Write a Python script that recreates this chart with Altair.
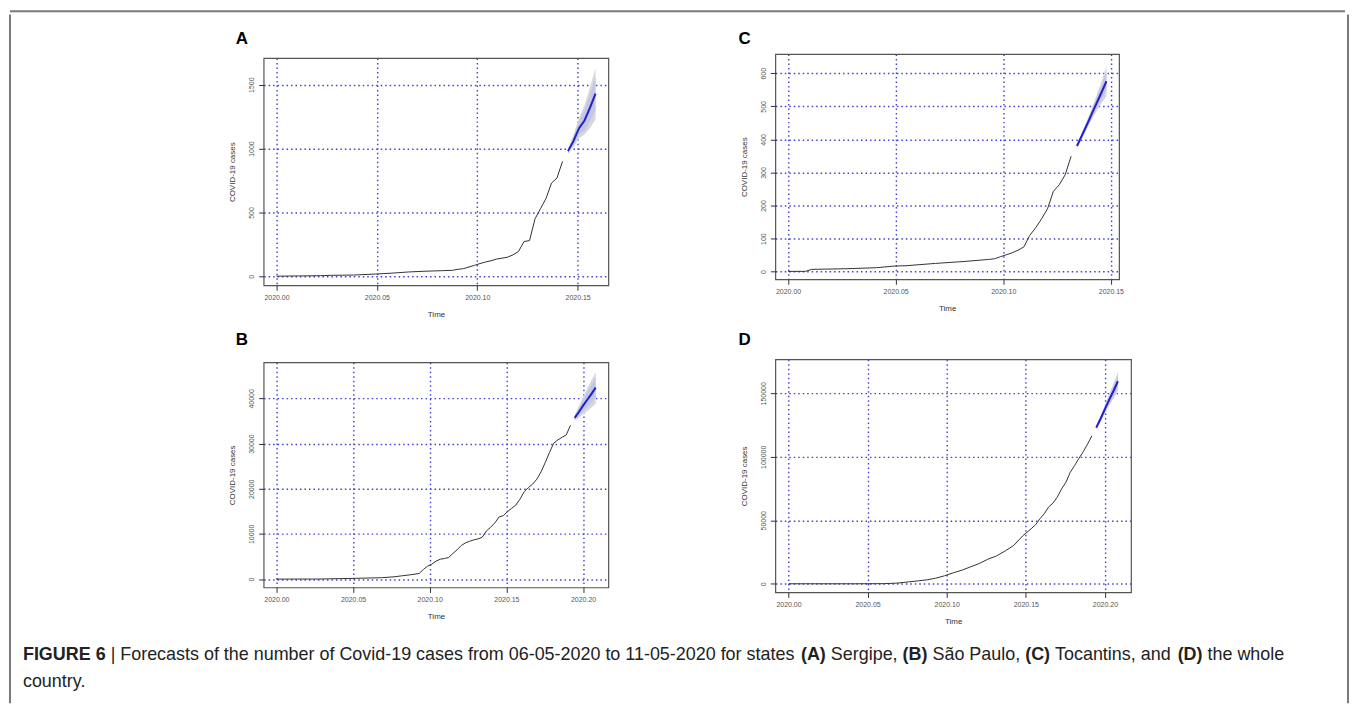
import altair as alt
import pandas as pd

# ---------------- data ----------------
# Panel A - Sergipe (day index since series start, cases)
A_obs_day = [0, 4, 8, 10, 14, 18, 21, 24, 27, 30, 32, 33, 34, 35, 36, 37, 38, 39, 40, 41, 42, 43, 44, 45, 46, 47, 48, 49, 50, 51, 52]
A_obs_val = [1, 3, 5, 8, 10, 18, 25, 34, 40, 44, 47, 55, 60, 73, 86, 100, 112, 122, 135, 142, 150, 168, 195, 272, 280, 450, 530, 610, 730, 770, 900]
A_fc_day = [53, 54, 55, 56, 57, 58]
A_fc_mean = [980, 1060, 1160, 1220, 1320, 1430]
A_lo80 = [967, 1028, 1108, 1140, 1220, 1300]
A_hi80 = [993, 1092, 1212, 1300, 1420, 1560]
A_lo95 = [960, 1010, 1080, 1110, 1160, 1230]
A_hi95 = [1000, 1110, 1240, 1340, 1480, 1630]

# Panel B - Sao Paulo
B_obs_day = [0, 10, 18, 25, 28, 30, 32, 33, 34, 35, 36, 37, 38, 39, 40, 41, 42, 43, 44, 45, 46, 47, 48, 49, 50,
             51, 52, 53, 54, 55, 56, 57, 58, 59, 60, 61, 62, 63, 64, 65, 66, 67, 68, 69, 70]
B_obs_val = [0, 10, 150, 300, 500, 740, 960, 1100, 1250, 2130, 2870, 3300, 3970, 4400, 4560, 4780, 5660, 6470, 7430, 8010, 8380, 8680, 8900, 9260, 10660,
             11470, 12430, 13750, 14040, 14930, 15660, 16400, 17720, 19340, 20290, 21030, 22130, 23750, 25810, 28010, 30070, 30810, 31400, 31910, 34040]
B_fc_day = [71, 72, 73, 74, 75, 76]
B_fc_mean = [35700, 37000, 38400, 39700, 41000, 42400]
B_lo80 = [35300, 36200, 37200, 38100, 39100, 40200]
B_hi80 = [36100, 37800, 39600, 41300, 42900, 44600]
B_lo95 = [35100, 35700, 36500, 37200, 38000, 38800]
B_hi95 = [36300, 38300, 40300, 42200, 44000, 45800]

# Panel C - Tocantins
C_obs_day = [0, 3, 4, 10, 15, 18, 20, 25, 30, 34, 35, 36, 37, 38, 39, 40, 41, 42, 43, 44, 45, 46, 47, 48]
C_obs_val = [1, 1, 7, 9, 12, 17, 18, 25, 31, 37, 39, 45, 51, 57, 65, 75, 110, 133, 160, 190, 243, 263, 293, 349]
C_fc_day = [49, 50, 51, 52, 53, 54]
C_fc_mean = [380, 418, 457, 497, 536, 576]
C_lo80 = [377, 412, 447, 483, 516, 547]
C_hi80 = [383, 424, 467, 511, 556, 605]
C_lo95 = [375, 408, 442, 476, 506, 530]
C_hi95 = [385, 428, 472, 518, 566, 622]

# Panel D - whole country
D_obs_day = [0, 15, 22, 25, 28, 30, 32, 34, 36, 38, 40, 42, 44, 46, 48, 50, 52, 54, 56, 57, 58, 59, 60,
             61, 62, 63, 64, 65, 66, 67, 68, 69, 70]
D_obs_val = [0, 0, 100, 520, 1570, 2350, 3140, 4440, 6270, 8620, 10710, 13330, 15940, 19340, 21950, 25870, 30310, 37630, 43380, 46510, 51210, 55130, 60360,
             63500, 68200, 74730, 79960, 87800, 93020, 98770, 104000, 110000, 116540]
D_fc_day = [71, 72, 73, 74, 75, 76]
D_fc_mean = [123000, 130000, 137500, 145000, 152000, 159500]
D_lo80 = [122000, 128400, 135200, 142000, 148000, 154700]
D_hi80 = [124000, 131600, 139800, 148000, 156000, 164300]
D_lo95 = [121500, 127500, 134000, 140500, 146000, 152000]
D_hi95 = [124500, 132500, 141000, 149500, 158000, 167000]

X_TICKS_AC = [2020.00, 2020.05, 2020.10, 2020.15]
X_TICKS_BD = [2020.00, 2020.05, 2020.10, 2020.15, 2020.20]
A_YTICKS = [0, 500, 1000, 1500]
B_YTICKS = [0, 10000, 20000, 30000, 40000]
C_YTICKS = [0, 100, 200, 300, 400, 500, 600]
D_YTICKS = [0, 50000, 100000, 150000]

CAPTION_LINE1 = [("FIGURE 6", True), (" | Forecasts of the number of Covid-19 cases from 06-05-2020 to 11-05-2020 for states ", False),
                 ("(A)", True), (" Sergipe, ", False), ("(B)", True), (" São Paulo, ", False), ("(C)", True),
                 (" Tocantins, and ", False), ("(D)", True), (" the whole", False)]
CAPTION_LINE2 = [("country.", False)]

FONT = "Liberation Sans"
GRID_COLOR = "#4040d4"
FRAME = "#7a7a7a"


def to_time(days):
    return [2020 + d / 365.0 for d in days]


def panel(letter, od, ov, fd, fm, l80, h80, l95, h95, xdom, ydom, xt, yt, w, h, toff, tdx):
    obs = pd.DataFrame({"t": to_time(od), "v": ov})
    fc = pd.DataFrame({"t": to_time(fd), "m": fm, "l80": l80, "h80": h80, "l95": l95, "h95": h95})
    xs = alt.Scale(domain=xdom, nice=False, zero=False)
    ys = alt.Scale(domain=ydom, nice=False, zero=False)
    xax = alt.Axis(values=xt, format=".2f", title="Time", grid=True, gridColor=GRID_COLOR,
                   gridDash=[1.5, 3], gridWidth=1.4, domain=False, tickSize=5, tickColor="#333",
                   tickWidth=1, labelFontSize=7, labelColor="#555", labelPadding=3, labelFont=FONT,
                   labelFlush=False, titleFont=FONT, titleFontSize=8, titleFontWeight="normal",
                   titleColor="#333", titlePadding=10)
    yax = alt.Axis(values=yt, format="d", title="COVID-19 cases", grid=True, gridColor=GRID_COLOR,
                   gridDash=[1.5, 3], gridWidth=1.4, domain=False, tickSize=5, tickColor="#333",
                   tickWidth=1, labelFontSize=7, labelColor="#555", labelPadding=4, labelFont=FONT,
                   labelAngle=270, labelAlign="center", labelBaseline="bottom",
                   minExtent=16, maxExtent=16, titleFont=FONT, titleFontSize=8,
                   titleFontWeight="normal", titleColor="#333", titlePadding=11)
    X = alt.X("t:Q", scale=xs, axis=xax)
    b95 = alt.Chart(fc).mark_area(color="#d6d6dc").encode(
        x=X, y=alt.Y("l95:Q", scale=ys, axis=yax), y2="h95:Q")
    b80 = alt.Chart(fc).mark_area(color="#c3c6e4").encode(
        x=X, y=alt.Y("l80:Q", scale=ys, axis=yax), y2="h80:Q")
    ol = alt.Chart(obs).mark_line(color="#333333", strokeWidth=1).encode(
        x=X, y=alt.Y("v:Q", scale=ys, axis=yax))
    fl = alt.Chart(fc).mark_line(color="#2020cc", strokeWidth=2).encode(
        x=X, y=alt.Y("m:Q", scale=ys, axis=yax))
    return alt.layer(b95, b80, ol, fl).properties(
        width=w, height=h,
        view=alt.ViewBackground(stroke="#555555", strokeWidth=1.2),
        title=alt.TitleParams(letter, anchor="start", frame="group", dx=tdx, offset=toff,
                              fontSize=17, fontWeight="bold", font=FONT, color="#000000"))


ONE = pd.DataFrame({"k": [0]})
NOSTROKE = alt.ViewBackground(stroke="transparent")


def spacer(w, h):
    return alt.Chart(ONE).mark_rect(opacity=0).encode(
        x=alt.value(0), x2=alt.value(w), y=alt.value(0), y2=alt.value(h)
    ).properties(width=w, height=h, view=NOSTROKE)


def wrap(p, top):
    return alt.vconcat(spacer(1, top), p, spacing=0)


XD_A = [2020 - 0.0064, 2020.1653]
XD_C = [2020 - 0.0059, 2020.1538]
XD_BD = [2020 - 0.0083, 2020.2165]

pA = panel("A", A_obs_day, A_obs_val, A_fc_day, A_fc_mean, A_lo80, A_hi80, A_lo95, A_hi95,
           XD_A, [-70, 1708], X_TICKS_AC, A_YTICKS, 346, 228, 9.7, -28)
pC = panel("C", C_obs_day, C_obs_val, C_fc_day, C_fc_mean, C_lo80, C_hi80, C_lo95, C_hi95,
           XD_C, [-23, 658], X_TICKS_AC, C_YTICKS, 345, 226, 6.0, -37)
pB = panel("B", B_obs_day, B_obs_val, B_fc_day, B_fc_mean, B_lo80, B_hi80, B_lo95, B_hi95,
           XD_BD, [-1850, 48000], X_TICKS_BD, B_YTICKS, 346, 226, 12.9, -28)
pD = panel("D", D_obs_day, D_obs_val, D_fc_day, D_fc_mean, D_lo80, D_hi80, D_lo95, D_hi95,
           XD_BD, [-6800, 176800], X_TICKS_BD, D_YTICKS, 357, 234, 10.1, -37)

# ---------------- caption (Arial / Liberation Sans metrics) ----------------
REG = {" ": 278, "(": 333, ")": 333, ",": 278, "-": 333, ".": 278, "|": 260,
       "A": 667, "B": 667, "C": 722, "D": 722, "E": 667, "F": 611, "G": 778, "I": 278, "P": 667,
       "R": 722, "S": 667, "T": 611, "U": 722,
       "a": 556, "b": 556, "c": 500, "d": 556, "e": 556, "f": 278, "g": 556, "h": 556, "i": 222,
       "j": 222, "k": 500, "l": 222, "m": 833, "n": 556, "o": 556, "p": 556, "q": 556, "r": 333,
       "s": 500, "t": 278, "u": 556, "v": 500, "w": 722, "x": 500, "y": 500, "z": 500, "ã": 556}
BOLD = {" ": 278, "(": 333, ")": 333, "A": 722, "B": 722, "C": 722, "D": 722, "E": 667, "F": 611,
        "G": 778, "I": 278, "R": 722, "U": 722}


def em(s, bold):
    table = BOLD if bold else REG
    return sum(table.get(ch, 556) for ch in s) / 1000.0


CAP_X0 = 10
CAP_W_TARGET = 1266
cap_fs = CAP_W_TARGET / sum(em(s, b) for s, b in CAPTION_LINE1)


def caption_layers(segments, y):
    layers = []
    x = CAP_X0
    for s, b in segments:
        lead = len(s) - len(s.lstrip(" "))
        xs = x + em(" " * lead, b) * cap_fs
        txt = s.strip(" ")
        layers.append(alt.Chart(ONE).mark_text(
            text=txt, align="left", baseline="middle", font=FONT, fontSize=cap_fs,
            fontWeight="bold" if b else "normal", color="#222222"
        ).encode(x=alt.value(xs), y=alt.value(y)))
        x += em(s, b) * cap_fs
    return layers


CAP_W = 1337
caption = alt.layer(*(caption_layers(CAPTION_LINE1, 19.3) + caption_layers(CAPTION_LINE2, 46.3))).properties(
    width=CAP_W, height=58, view=NOSTROKE)

# ---------------- layout with figure frame ----------------
SP_ROW = 86.4
COL_GAP = 128.6
ROW_GAP = 8.3
L_UP = 11.9
BAR_H = 677.5

row1 = alt.hconcat(spacer(SP_ROW, 1), wrap(pA, 1), wrap(pC, 1), spacing=COL_GAP)
row2 = alt.hconcat(spacer(SP_ROW, 1), wrap(pB, 1), wrap(pD, 1), spacing=COL_GAP)
inner = alt.vconcat(row1, row2, caption, spacing=ROW_GAP)


def sidebar():
    return alt.Chart(ONE).mark_rule(color=FRAME, strokeWidth=2, strokeCap="square").encode(
        x=alt.value(1), y=alt.value(-L_UP), y2=alt.value(BAR_H)
    ).properties(width=2, height=BAR_H, view=NOSTROKE)


topbar = alt.Chart(ONE).mark_rule(color=FRAME, strokeWidth=2).encode(
    x=alt.value(1), x2=alt.value(1341), y=alt.value(1)).properties(width=1341, height=2, view=NOSTROKE)

body = alt.hconcat(sidebar(), inner, sidebar(), spacing=0)
chart = alt.vconcat(topbar, body, spacing=0).properties(
    padding={"left": 0, "top": 0, "right": 0, "bottom": 0}, background="white"
).configure(font=FONT)

chart.save("out.html", embed_options={"renderer": "svg", "actions": False})
